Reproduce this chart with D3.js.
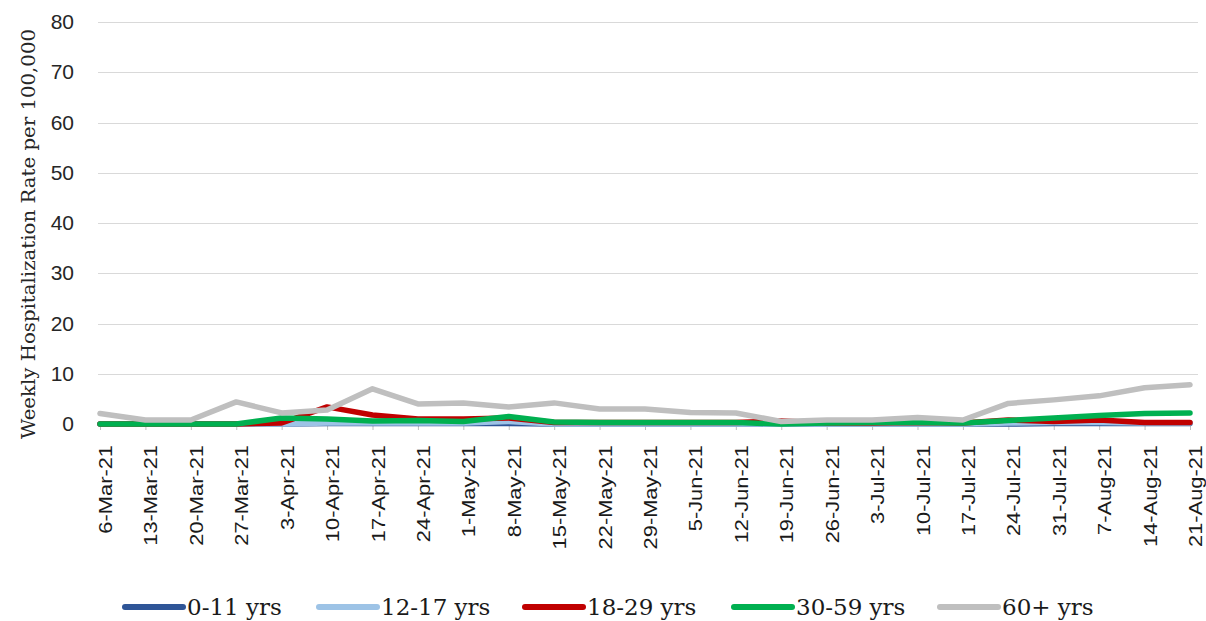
<!DOCTYPE html>
<html>
<head>
<meta charset="utf-8">
<script src="https://cdn.jsdelivr.net/npm/d3@7"></script>
<style>
  html, body { margin: 0; padding: 0; background: #fff; }
  svg { display: block; }
</style>
</head>
<body>
<div id="chart"></div>
<script>
// ---- data ----
const weeks = ['6-Mar-21', '13-Mar-21', '20-Mar-21', '27-Mar-21', '3-Apr-21', '10-Apr-21', '17-Apr-21',
  '24-Apr-21', '1-May-21', '8-May-21', '15-May-21', '22-May-21', '29-May-21', '5-Jun-21', '12-Jun-21',
  '19-Jun-21', '26-Jun-21', '3-Jul-21', '10-Jul-21', '17-Jul-21', '24-Jul-21', '31-Jul-21', '7-Aug-21',
  '14-Aug-21', '21-Aug-21']

const age0to11 = [0, 0, 0, 0, 0, 0.1, 0.1, 0.1, 0.1, 0.1, 0, 0, 0, 0, 0, 0, 0, 0, 0, 0, 0, 0.1, 0.1, 0.1, 0.1]
const age12to17 = [0, 0, 0, 0, 0, 0.2, 0.2, 0.2, 0.2, 0.5, 0, 0, 0, 0, 0, 0, 0, 0, 0, 0, 0.2, 0.3, 0.3, 0.2, 0.2]
const age18to29 = [0, 0, 0, 0, 0.2, 3.4, 1.8, 1.0, 1.0, 1.2, 0.3, 0.3, 0.3, 0.3, 0.3, 0.6, 0.2, 0.2, 0.3, 0.2, 0.8, 0.5, 0.8, 0.3, 0.3]
const age30to59 = [0, 0, 0, 0, 1.2, 1.0, 0.6, 0.7, 0.5, 1.5, 0.4, 0.3, 0.3, 0.3, 0.3, 0, 0.2, 0.3, 0.3, 0.2, 0.7, 1.2, 1.7, 2.1, 2.2]
const age60plus = [2.1, 0.8, 0.8, 4.4, 2.2, 2.8, 7.0, 4.0, 4.2, 3.4, 4.2, 3.0, 3.0, 2.3, 2.2, 0.5, 0.8, 0.8, 1.3, 0.8, 4.1, 4.8, 5.6, 7.2, 7.8]

const yTicks = [0, 10, 20, 30, 40, 50, 60, 70, 80]

const seriesNames = ['0-11 yrs', '12-17 yrs', '18-29 yrs', '30-59 yrs', '60+ yrs']
const seriesValues = [age0to11, age12to17, age18to29, age30to59, age60plus]
const seriesColors = ['#2F5597', '#9DC3E6', '#C00000', '#00B050', '#BFBFBF']

// ---- layout ----
const W = 1206, H = 621
const plot = { left: 100, right: 1190, gridRight: 1198, top: 22, bottom: 424 }

const svg = d3.select('#chart').append('svg')
  .attr('width', W).attr('height', H)

const x = d3.scalePoint().domain(weeks).range([plot.left, plot.right])
const y = d3.scaleLinear().domain([0, 80]).range([plot.bottom, plot.top])

// gridlines
svg.append('g').selectAll('line').data(yTicks.filter(d => d > 0)).join('line')
  .attr('x1', plot.left - 2).attr('x2', plot.gridRight)
  .attr('y1', d => Math.round(y(d)) + 0.5).attr('y2', d => Math.round(y(d)) + 0.5)
  .attr('stroke', '#D9D9D9').attr('stroke-width', 1)

// y axis
const yAxis = svg.append('g')
  .attr('transform', `translate(74,0)`)
  .call(d3.axisLeft(y).tickValues(yTicks).tickSize(0).tickPadding(0))
yAxis.select('.domain').remove()
yAxis.selectAll('.tick text')
  .attr('fill', '#262626')
  .attr('font-size', '21px')
  .attr('font-family', '"Liberation Sans", sans-serif')

// x axis: tick marks below baseline
const xAxis = svg.append('g')
  .attr('transform', `translate(0,${plot.bottom})`)
  .call(d3.axisBottom(x).tickSize(6).tickFormat(''))
xAxis.select('.domain').attr('stroke', '#D9D9D9')
xAxis.selectAll('.tick line').attr('stroke', '#BFBFBF')

// rotated x labels, stretched along their length as in the reference
svg.append('g').selectAll('text').data(weeks).join('text')
  .attr('transform', d => `translate(${x(d) + 12},445) rotate(-90) scale(1.15,1)`)
  .attr('text-anchor', 'end')
  .attr('fill', '#1a1a1a')
  .attr('font-size', '19px')
  .attr('font-family', '"Liberation Sans", sans-serif')
  .text(d => d)

// y title
svg.append('text')
  .attr('transform', `translate(35,234) rotate(-90)`)
  .attr('text-anchor', 'middle')
  .attr('fill', '#262626')
  .attr('font-size', '18px')
  .attr('font-family', '"DejaVu Serif", serif')
  .attr('textLength', 410)
  .attr('lengthAdjust', 'spacingAndGlyphs')
  .text('Weekly Hospitalization Rate per 100,000')

// lines
const line = d3.line()
  .x((d, i) => x(weeks[i]))
  .y(d => y(d))

svg.append('g').selectAll('path').data(seriesValues).join('path')
  .attr('d', d => line(d))
  .attr('fill', 'none')
  .attr('stroke', (d, i) => seriesColors[i])
  .attr('stroke-width', 5.5)
  .attr('stroke-linejoin', 'round')
  .attr('stroke-linecap', 'round')

// legend
const legendX = [123, 317, 523, 732, 938]
const legend = svg.append('g').selectAll('g').data(seriesNames).join('g')
  .attr('transform', (d, i) => `translate(${legendX[i]},607)`)
legend.append('line')
  .attr('x1', 2).attr('x2', 60)
  .attr('stroke', (d, i) => seriesColors[i])
  .attr('stroke-width', 6)
  .attr('stroke-linecap', 'round')
legend.append('text')
  .attr('x', 64).attr('y', 8)
  .attr('fill', '#1a1a1a')
  .attr('font-size', '23px')
  .attr('font-family', '"DejaVu Serif", serif')
  .text(d => d)
</script>
</body>
</html>
